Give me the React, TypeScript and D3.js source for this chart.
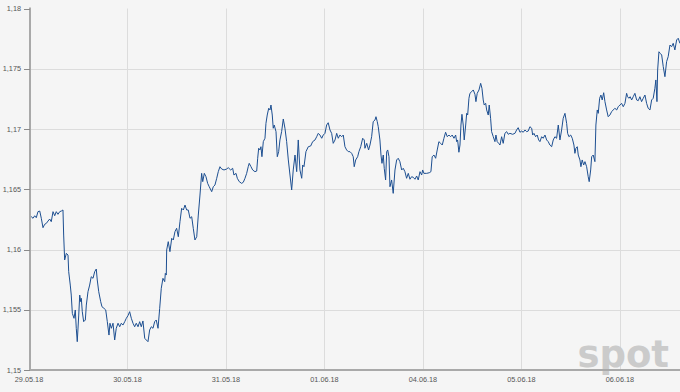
import React from "react";
import * as d3 from "d3";

const dayLabels = ["29.05.18", "30.05.18", "31.05.18", "01.06.18", "04.06.18", "05.06.18", "06.06.18"];
const yTicks = [1.15, 1.155, 1.16, 1.165, 1.17, 1.175, 1.18];

// time in trading-day units (0 = start of 29.05.18)
const times = [
  0.007, 0.023, 0.041, 0.058, 0.074, 0.091, 0.109, 0.125, 0.142, 0.159, 0.176, 0.193, 0.21, 0.226, 0.244, 0.261, 0.277, 0.294, 0.312, 0.328,
  0.345, 0.352, 0.362, 0.379, 0.396, 0.403, 0.419, 0.429, 0.44, 0.457, 0.47, 0.48, 0.49, 0.505, 0.515, 0.525, 0.531, 0.541, 0.555, 0.572,
  0.582, 0.599, 0.616, 0.632, 0.65, 0.667, 0.683, 0.693, 0.708, 0.728, 0.741, 0.761, 0.779, 0.795, 0.812, 0.822, 0.836, 0.853, 0.87, 0.886,
  0.904, 0.921, 0.937, 0.954, 0.972, 0.988, 1.005, 1.022, 1.039, 1.056, 1.073, 1.089, 1.107, 1.124, 1.14, 1.157, 1.175, 1.191, 1.208, 1.225,
  1.242, 1.259, 1.276, 1.292, 1.31, 1.327, 1.343, 1.36, 1.378, 1.384, 1.394, 1.398, 1.414, 1.431, 1.449, 1.465, 1.482, 1.499, 1.516, 1.533,
  1.55, 1.567, 1.584, 1.601, 1.617, 1.635, 1.652, 1.668, 1.685, 1.703, 1.719, 1.736, 1.753, 1.764, 1.78, 1.797, 1.814, 1.83, 1.855, 1.871,
  1.888, 1.906, 1.922, 1.939, 1.956, 1.98, 2.007, 2.023, 2.048, 2.068, 2.081, 2.102, 2.115, 2.135, 2.159, 2.176, 2.193, 2.21, 2.226, 2.236,
  2.254, 2.271, 2.294, 2.312, 2.322, 2.332, 2.345, 2.355, 2.365, 2.379, 2.396, 2.406, 2.419, 2.434, 2.447, 2.457, 2.47, 2.48, 2.49, 2.508,
  2.521, 2.535, 2.548, 2.565, 2.582, 2.599, 2.616, 2.633, 2.65, 2.667, 2.683, 2.701, 2.718, 2.734, 2.751, 2.769, 2.779, 2.792, 2.812, 2.836,
  2.86, 2.88, 2.904, 2.921, 2.937, 2.954, 2.972, 2.988, 3.005, 3.022, 3.038, 3.056, 3.073, 3.089, 3.107, 3.124, 3.14, 3.157, 3.175, 3.191,
  3.208, 3.225, 3.242, 3.259, 3.276, 3.292, 3.302, 3.317, 3.337, 3.35, 3.368, 3.388, 3.404, 3.411, 3.429, 3.448, 3.462, 3.479, 3.495, 3.513,
  3.523, 3.536, 3.546, 3.563, 3.574, 3.584, 3.597, 3.607, 3.621, 3.632, 3.642, 3.655, 3.665, 3.682, 3.698, 3.716, 3.733, 3.749, 3.766, 3.784,
  3.8, 3.817, 3.834, 3.851, 3.868, 3.885, 3.902, 3.919, 3.936, 3.952, 3.97, 3.987, 3.997, 4.01, 4.038, 4.064, 4.081, 4.094, 4.112, 4.129,
  4.145, 4.162, 4.18, 4.196, 4.213, 4.23, 4.247, 4.264, 4.281, 4.297, 4.315, 4.332, 4.342, 4.352, 4.365, 4.376, 4.386, 4.396, 4.409, 4.419,
  4.434, 4.444, 4.454, 4.467, 4.477, 4.495, 4.511, 4.528, 4.538, 4.551, 4.569, 4.586, 4.599, 4.612, 4.622, 4.637, 4.647, 4.663, 4.673, 4.687,
  4.697, 4.714, 4.731, 4.741, 4.754, 4.769, 4.782, 4.799, 4.815, 4.832, 4.85, 4.866, 4.883, 4.911, 4.934, 4.951, 4.967, 4.985, 5.002, 5.018,
  5.036, 5.053, 5.069, 5.086, 5.104, 5.114, 5.127, 5.144, 5.16, 5.175, 5.188, 5.205, 5.221, 5.239, 5.256, 5.272, 5.289, 5.307, 5.323, 5.34,
  5.357, 5.374, 5.391, 5.408, 5.424, 5.442, 5.459, 5.469, 5.482, 5.5, 5.516, 5.533, 5.543, 5.553, 5.567, 5.577, 5.594, 5.604, 5.617, 5.632,
  5.645, 5.662, 5.678, 5.688, 5.703, 5.713, 5.729, 5.746, 5.756, 5.77, 5.78, 5.794, 5.807, 5.82, 5.835, 5.848, 5.865, 5.881, 5.898, 5.916,
  5.932, 5.949, 5.967, 5.983, 6.0, 6.017, 6.034, 6.051, 6.068, 6.078, 6.091, 6.104, 6.119, 6.135, 6.152, 6.17, 6.186, 6.203, 6.22, 6.237,
  6.254, 6.271, 6.287, 6.305, 6.322, 6.338, 6.355, 6.365, 6.376, 6.383, 6.396, 6.409, 6.424, 6.44, 6.457, 6.474, 6.49, 6.508, 6.525, 6.541,
  6.558, 6.576, 6.592, 6.609,
];

const prices = [
  1.16264, 1.16272, 1.16259, 1.1628, 1.16264, 1.16314, 1.16319, 1.16259, 1.16181, 1.16209, 1.16217, 1.16236, 1.16253, 1.16231, 1.16314, 1.1628, 1.16314, 1.16292, 1.16314, 1.16319,
  1.16328, 1.1612, 1.15913, 1.15968, 1.15954, 1.15816, 1.15705, 1.15622, 1.1547, 1.15429, 1.15498, 1.15346, 1.15235, 1.15456, 1.15622, 1.15567, 1.15595, 1.15484, 1.15401, 1.15415,
  1.15539, 1.1565, 1.15705, 1.15774, 1.15761, 1.15816, 1.15838, 1.15747, 1.1565, 1.15567, 1.15525, 1.15512, 1.15498, 1.15401, 1.1529, 1.15388, 1.15346, 1.15388, 1.15249, 1.15346,
  1.15388, 1.15359, 1.15388, 1.15373, 1.15401, 1.15429, 1.15451, 1.15484, 1.15429, 1.15388, 1.15359, 1.15388, 1.15359, 1.15401, 1.15359, 1.15407, 1.15263, 1.15249, 1.15235, 1.15332,
  1.15359, 1.15346, 1.15401, 1.15415, 1.15346, 1.15512, 1.15678, 1.15761, 1.15733, 1.15802, 1.15788, 1.15996, 1.16065, 1.15982, 1.16093, 1.16079, 1.16148, 1.16176, 1.16106, 1.16231,
  1.16342, 1.16328, 1.16369, 1.16328, 1.16328, 1.16259, 1.16272, 1.16176, 1.16079, 1.16106, 1.16286, 1.16452, 1.16632, 1.16563, 1.16632, 1.16604, 1.16549, 1.16521, 1.1648, 1.16521,
  1.16535, 1.16591, 1.16646, 1.16687, 1.16668, 1.1666, 1.16668, 1.16679, 1.1666, 1.16674, 1.16618, 1.16632, 1.16591, 1.16563, 1.16549, 1.16558, 1.16591, 1.16632, 1.16687, 1.16715,
  1.16687, 1.1666, 1.16646, 1.16651, 1.16757, 1.1684, 1.16826, 1.16853, 1.1677, 1.16895, 1.16923, 1.17047, 1.17116, 1.17172, 1.17158, 1.17199, 1.17116, 1.17006, 1.17033, 1.16978,
  1.1677, 1.16812, 1.16909, 1.16978, 1.17083, 1.17006, 1.16895, 1.16743, 1.16618, 1.16494, 1.1666, 1.16784, 1.16646, 1.16909, 1.1666, 1.16591, 1.16701, 1.16687, 1.16812, 1.16853,
  1.16859, 1.16895, 1.16909, 1.16936, 1.16964, 1.1695, 1.16923, 1.1695, 1.16964, 1.17033, 1.17052, 1.16992, 1.16964, 1.16881, 1.16909, 1.16964, 1.16923, 1.1695, 1.16936, 1.1695,
  1.16853, 1.16826, 1.16812, 1.16812, 1.16798, 1.1677, 1.16687, 1.16743, 1.1677, 1.16812, 1.16853, 1.16923, 1.16909, 1.1684, 1.16881, 1.16826, 1.16867, 1.16936, 1.17061, 1.17075,
  1.17102, 1.17061, 1.17019, 1.16909, 1.16784, 1.16715, 1.16784, 1.16674, 1.16577, 1.16812, 1.16826, 1.1677, 1.16521, 1.16577, 1.16466, 1.1666, 1.16743, 1.16757, 1.16729, 1.1666,
  1.16674, 1.16646, 1.16591, 1.16632, 1.16583, 1.16604, 1.16599, 1.16583, 1.1661, 1.16577, 1.16646, 1.16618, 1.1666, 1.16632, 1.16632, 1.16637, 1.16646, 1.1677, 1.16784, 1.16757,
  1.16826, 1.16895, 1.16881, 1.16867, 1.16923, 1.16973, 1.16936, 1.1695, 1.16936, 1.1695, 1.16923, 1.1695, 1.16895, 1.16909, 1.16807, 1.16867, 1.17033, 1.17122, 1.17033, 1.16909,
  1.17033, 1.1713, 1.17116, 1.17255, 1.17296, 1.1731, 1.17324, 1.17288, 1.17227, 1.17296, 1.17324, 1.17379, 1.17338, 1.17241, 1.17199, 1.17213, 1.17158, 1.17116, 1.17199, 1.17089,
  1.16978, 1.16936, 1.16895, 1.1695, 1.16895, 1.16881, 1.16867, 1.16936, 1.16881, 1.16964, 1.16978, 1.16956, 1.16964, 1.16956, 1.16964, 1.16992, 1.17011, 1.16973, 1.16983, 1.16973,
  1.16992, 1.16978, 1.16983, 1.17019, 1.17006, 1.1695, 1.16964, 1.16936, 1.1695, 1.16909, 1.16895, 1.16936, 1.16923, 1.1695, 1.16909, 1.16895, 1.16867, 1.16853, 1.16909, 1.16936,
  1.16923, 1.17033, 1.16909, 1.16992, 1.17089, 1.1713, 1.17047, 1.16964, 1.16936, 1.1695, 1.16923, 1.16867, 1.16798, 1.1684, 1.16853, 1.16784, 1.16743, 1.16687, 1.16743, 1.16701,
  1.16729, 1.16687, 1.16604, 1.16563, 1.1666, 1.1677, 1.16784, 1.16729, 1.17033, 1.17158, 1.1713, 1.17255, 1.17282, 1.17241, 1.17301, 1.17227, 1.17158, 1.17102, 1.17116, 1.17144,
  1.17158, 1.17172, 1.17158, 1.17185, 1.17199, 1.17213, 1.17185, 1.17213, 1.17296, 1.17268, 1.17255, 1.17268, 1.17241, 1.17268, 1.17296, 1.17241, 1.17235, 1.17268, 1.17227, 1.17255,
  1.17282, 1.17213, 1.17172, 1.17158, 1.17241, 1.17255, 1.17338, 1.17407, 1.17227, 1.1749, 1.17641, 1.17628, 1.17614, 1.17517, 1.17434, 1.17559, 1.176, 1.17697, 1.17683, 1.17711,
  1.17656, 1.17739, 1.17753, 1.17711,
];

const W = 680;
const H = 392;
const left = 30;
const right = 680;
const top = 8.5;
const bottom = 370;

export default function App() {
  const x = d3.scaleLinear().domain([0, 6.61]).range([29, 680]);
  const y = d3.scaleLinear().domain([1.15, 1.18]).range([bottom, top]);
  const pts: [number, number][] = times.map((t, i) => [t, prices[i]]);
  const line = d3
    .line<[number, number]>()
    .x((d) => x(d[0]))
    .y((d) => y(d[1]));
  const fmt = (v: number) => String(+v.toFixed(3)).replace(".", ",");
  const font = "'Liberation Sans', Arial, sans-serif";

  return (
    <svg
      width={W}
      height={H}
      style={{ position: "absolute", left: 0, top: 0, display: "block" }}
      xmlns="http://www.w3.org/2000/svg"
    >
      <rect x={0} y={0} width={W} height={H} fill="#f5f5f5" />
      {/* horizontal grid */}
      {yTicks.slice(1, -1).map((v) => (
        <line key={"hg" + v} x1={left} x2={right} y1={Math.round(y(v)) + 0.5} y2={Math.round(y(v)) + 0.5} stroke="#dcdcdc" strokeWidth={1} />
      ))}
      {/* vertical grid */}
      {dayLabels.map((lab, i) =>
        i === 0 ? null : (
          <line key={"vg" + lab} x1={Math.round(x(i)) + 0.5} x2={Math.round(x(i)) + 0.5} y1={top} y2={bottom} stroke="#dcdcdc" strokeWidth={1} />
        )
      )}
      {/* watermark */}
      <text x={669} y={367} textAnchor="end" fontFamily="'DejaVu Sans', Verdana, sans-serif" fontWeight="bold" fontSize={37} fill="#cbcbcb">
        spot
      </text>
      {/* price line */}
      <path d={line(pts) || ""} fill="none" stroke="#1d4f91" strokeWidth={1} strokeLinejoin="round" />
      {/* axes */}
      <line x1={left} x2={left} y1={top - 1} y2={bottom + 1} stroke="#a9a9a9" strokeWidth={2} />
      <line x1={left - 1} x2={right} y1={bottom} y2={bottom} stroke="#a9a9a9" strokeWidth={2} />
      {yTicks.map((v) => (
        <g key={"yt" + v}>
          <line x1={24} x2={left} y1={Math.round(y(v)) + 0.5} y2={Math.round(y(v)) + 0.5} stroke="#8a8a8a" strokeWidth={1} />
          <text x={21} y={y(v) + 2.6} textAnchor="end" fontFamily={font} fontSize={7.3} fill="#555">
            {fmt(v)}
          </text>
        </g>
      ))}
      {dayLabels.map((lab, i) => (
        <text key={"xl" + lab} x={x(i)} y={382} textAnchor="middle" fontFamily={font} fontSize={7.3} fill="#555">
          {lab}
        </text>
      ))}
    </svg>
  );
}
